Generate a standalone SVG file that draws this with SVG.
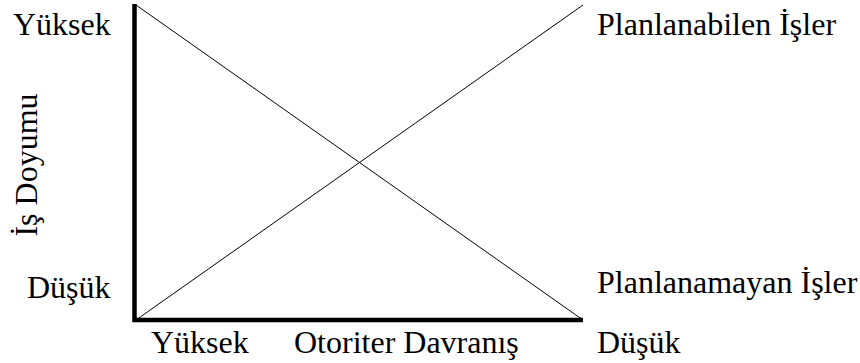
<svg xmlns="http://www.w3.org/2000/svg" width="860" height="363" viewBox="0 0 860 363">
<style>
text{font-family:"Liberation Serif","Times New Roman",serif;font-size:32px;fill:#000}
.axis{stroke:#000;stroke-width:4.5;fill:none}
.diag{stroke:#000;stroke-width:1;fill:none}
</style>
<rect width="860" height="363" fill="#fff"/>
<g id="connectors">
<line class="diag" x1="136" y1="5" x2="583" y2="320"/>
<line class="diag" x1="136" y1="320" x2="583" y2="5"/>
</g>
<g id="axes">
<polyline class="axis" points="134.5,4 134.5,320 583,320"/>
</g>
<g id="label-yuksek-left"><text x="13" y="35">Yüksek</text></g>
<g id="label-dusuk-left"><text x="27" y="298">Düşük</text></g>
<g id="label-planlanabilen"><text x="597" y="35">Planlanabilen İşler</text></g>
<g id="label-planlanamayan"><text x="597" y="293">Planlanamayan İşler</text></g>
<g id="label-yuksek-bottom"><text x="151" y="353">Yüksek</text></g>
<g id="label-otoriter"><text x="294" y="353">Otoriter Davranış</text></g>
<g id="label-dusuk-bottom"><text x="597" y="353">Düşük</text></g>
<g id="label-is-doyumu"><text transform="translate(37,165) rotate(-90)" text-anchor="middle">İş Doyumu</text></g>
</svg>
